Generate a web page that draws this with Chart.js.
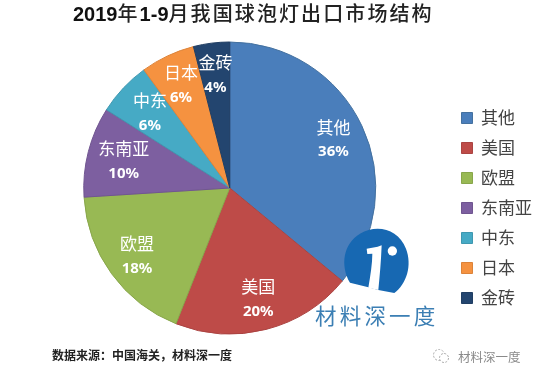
<!DOCTYPE html>
<html>
<head>
<meta charset="utf-8">
<script src="https://cdn.jsdelivr.net/npm/chart.js@4"></script>
<style>
  body { margin: 0; background: #fff; }
  #wrap { position: relative; width: 540px; height: 374px; overflow: hidden; font-family: "Noto Sans CJK SC", sans-serif; }
  #chart { position: absolute; left: 0; top: 0; }
  .txt { position: absolute; white-space: nowrap; margin: 0; }
  #title { left: 73px; top: 0; font-size: 20px; line-height: 26px; font-weight: 500; color: #222; letter-spacing: 2.1px; }
  #title b { font-family: "Liberation Sans", sans-serif; font-weight: 700; letter-spacing: 0; color: #111; }
  #source { left: 52px; top: 347px; font-size: 12px; line-height: 16px; font-weight: 700; color: #222; }
  #brand { left: 315px; top: 300px; font-size: 21.5px; line-height: 30px; letter-spacing: 3.2px; color: #3c7fb4; }
  #wechat { left: 458px; top: 349px; font-size: 12.5px; line-height: 16px; color: #8a8a8a; }
  svg { position: absolute; }
</style>
</head>
<body>
<div id="wrap">
  <canvas id="chart" width="540" height="374"></canvas>
  <h1 id="title" class="txt"></h1>
  <svg style="left:335px;top:222px" width="85" height="80" viewBox="0 0 255 240">
    <path d="M45 182 C15 130 25 65 75 35 C125 5 190 20 213 80 C232 130 215 185 178 213 L130 204 L100 196 Z" fill="#1768b2"/>
    <path d="M95 80 L128 74 L140 70 C138 120 134 165 130 204 L100 197 C106 160 112 125 112 95 L97 96 Z" fill="#fff"/>
    <circle cx="172" cy="87" r="14" fill="#fff"/>
  </svg>
  <div id="brand" class="txt">材料深一度</div>
  <div id="source" class="txt"></div>
  <svg style="left:432px;top:348px" width="18" height="16" viewBox="0 0 18 16">
    <circle cx="7" cy="7" r="5.5" fill="none" stroke="#aaa" stroke-width="1" stroke-dasharray="2 1.5"/>
    <circle cx="12" cy="10" r="4.5" fill="#fff" stroke="#aaa" stroke-width="1" stroke-dasharray="2 1.5"/>
  </svg>
  <div id="wechat" class="txt">材料深一度</div>
</div>
<script>
// values
const regions = ['其他', '美国', '欧盟', '东南亚', '中东', '日本', '金砖'];
const shares = [36, 20, 18, 10, 6, 6, 4];
const colors = ['#4a7ebb', '#be4b48', '#98b954', '#7d5fa0', '#46aac5', '#f59240', '#23456f'];
const edges = ['#44719f', '#ab4442', '#88a64b', '#705590', '#3f98b0', '#dc8339', '#203e63'];

document.getElementById('title').innerHTML = '<b>2019</b>年<b>1-9</b>月我国球泡灯出口市场结构';
document.getElementById('source').textContent = '数据来源：中国海关，材料深一度';

// percent labels sit on each slice, at the same radius
const sliceLabels = {
    id: 'sliceLabels',
    afterDatasetsDraw(chart) {
        const ctx = chart.ctx;
        const arcs = chart.getDatasetMeta(0).data;
        ctx.save();
        ctx.textAlign = 'center';
        ctx.textBaseline = 'middle';
        ctx.fillStyle = '#fff';
        arcs.forEach((arc, i) => {
            const mid = (arc.startAngle + arc.endAngle) / 2;
            const r = arc.outerRadius * (i === 3 || i === 4 ? 0.75 : 0.785);
            const x = arc.x + Math.cos(mid) * r;
            const y = arc.y + Math.sin(mid) * r;
            ctx.font = '17px "Noto Sans CJK SC"';
            ctx.fillText(regions[i], x, y - 12);
            ctx.font = 'bold 15px "Noto Sans"';
            ctx.fillText(shares[i] + '%', x, y + 13);
        });
        ctx.restore();
    }
};

// legend sits lower and further right than the layout puts it
const moveLegend = {
    id: 'moveLegend',
    afterLayout(chart) {
        const legend = chart.legend;
        legend.top += 20;
        legend.bottom += 20;
        legend.left += 7;
        legend.right += 7;
        legend.legendHitBoxes.forEach(box => { box.left += 7; box.top += 20; });
    }
};

new Chart(document.getElementById('chart'), {
    type: 'pie',
    data: {
        labels: regions,
        datasets: [{
            data: shares,
            backgroundColor: colors,
            borderColor: edges,
            borderWidth: 1
        }]
    },
    options: {
        responsive: false,
        animation: false,
        radius: 146,
        layout: { padding: { left: 18, right: 5, top: 28, bottom: 26 } },
        plugins: {
            tooltip: { enabled: false },
            legend: {
                position: 'right',
                labels: {
                    boxWidth: 11,
                    boxHeight: 11,
                    padding: 13,
                    color: '#444',
                    font: { size: 17, family: '"Noto Sans CJK SC"', lineHeight: 1.18 }
                }
            }
        }
    },
    plugins: [sliceLabels, moveLegend]
});
</script>
</body>
</html>
